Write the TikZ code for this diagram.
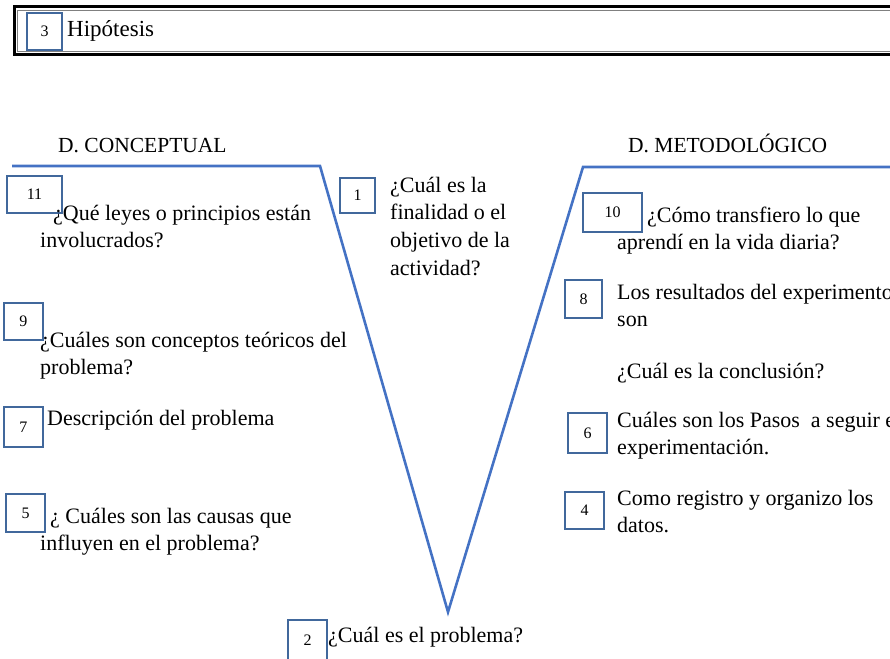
\documentclass[tikz,border=0pt]{standalone}
\usepackage{fontspec}
\setmainfont{Liberation Serif}
\definecolor{vblue}{HTML}{4472C4}
\definecolor{boxblue}{HTML}{41689C}
\newcommand{\tblock}[1]{\parbox[t]{420pt}{\raggedright\fontsize{22}{27.7}\selectfont #1}}
\tikzset{
  numbox/.style={draw=boxblue, line width=1.8pt, inner sep=0pt, font=\fontsize{16}{18}\selectfont, fill=white},
  txt/.style={anchor=base west, inner sep=0pt},
  head/.style={anchor=base west, inner sep=0pt, font=\fontsize{21.5}{24}\selectfont},
  vline/.style={draw=vblue, line width=2.6pt, line join=miter}
}
\begin{document}
\begin{tikzpicture}[x=1pt,y=-1pt]
\useasboundingbox (0,0) rectangle (890,658);
\clip (0,0) rectangle (890,658);
% top hypothesis frame
\draw[black, line width=3pt] (14,7) rectangle (905,55);
\draw[gray, line width=0.8pt] (17.5,10.5) rectangle (905,51.5);
\node[numbox, minimum width=35pt, minimum height=37pt] (b3) at (44.5,31.5) {3};
\node[txt, font=\fontsize{23}{26}\selectfont] (t3) at (67,37) {Hipótesis};
% headings
\node[head] (hc) at (58,152) {D. CONCEPTUAL};
\node[head] (hm) at (628,152) {D. METODOLÓGICO};
% V shape
\coordinate (vl) at (12,166);
\coordinate (vcl) at (320,166);
\coordinate (vb) at (448,612);
\coordinate (vcr) at (583,167);
\coordinate (vr) at (895,167);
\draw[vline] (vl) -- (vcl) -- (vb) -- (vcr) -- (vr);
% left column
\node[numbox, minimum width=55pt, minimum height=37pt] (b11) at (34.5,194.5) {11};
\node[txt] (t11) at (40,220) {\tblock{\hspace*{13pt}¿Qué leyes o principios están\\involucrados?}};
\node[numbox, minimum width=39pt, minimum height=37pt] (b9) at (23.5,321.5) {9};
\node[txt] (t9) at (40,347) {\tblock{¿Cuáles son conceptos teóricos del\\problema?}};
\node[numbox, minimum width=39pt, minimum height=40pt] (b7) at (23.5,427) {7};
\node[txt] (t7) at (47,425) {\tblock{Descripción del problema}};
\node[numbox, minimum width=39pt, minimum height=38pt] (b5) at (25.5,513) {5};
\node[txt] (t5) at (40,523) {\tblock{\hspace*{10pt}¿ Cuáles son las causas que\\influyen en el problema?}};
% centre
\node[numbox, minimum width=35pt, minimum height=35pt] (b1) at (357.5,195.5) {1};
\node[txt] (t1) at (390,192) {\tblock{¿Cuál es la\\finalidad o el\\objetivo de la\\actividad?}};
\node[numbox, minimum width=39pt, minimum height=40pt] (b2) at (307.5,640) {2};
\node[txt] (t2) at (328,642) {\tblock{¿Cuál es el problema?}};
% right column
\node[numbox, minimum width=59pt, minimum height=39pt] (b10) at (612.5,212.5) {10};
\node[txt] (t10) at (617,222) {\tblock{\hspace*{30pt}¿Cómo transfiero lo que\\aprendí en la vida diaria?}};
\node[numbox, minimum width=37pt, minimum height=38pt] (b8) at (583.5,299) {8};
\node[txt] (t8) at (617,299) {\tblock{Los resultados del experimento\\son}};
\node[txt] (t8b) at (617,378) {\tblock{¿Cuál es la conclusión?}};
\node[numbox, minimum width=39pt, minimum height=40pt] (b6) at (587.5,433) {6};
\node[txt] (t6) at (617,427) {\tblock{Cuáles son los Pasos \ a seguir en\\experimentación.}};
\node[numbox, minimum width=39pt, minimum height=37pt] (b4) at (584.5,510.5) {4};
\node[txt] (t4) at (617,505) {\tblock{Como registro y organizo los\\datos.}};
\end{tikzpicture}
\end{document}
